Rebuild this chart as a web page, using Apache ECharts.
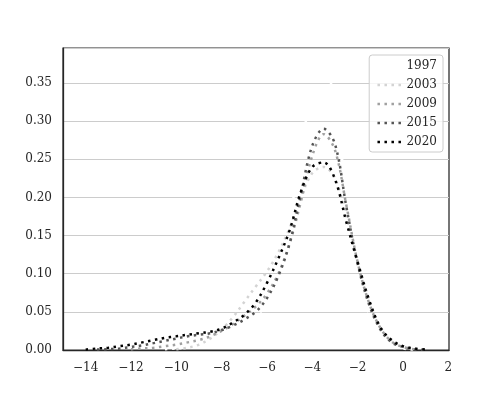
<!DOCTYPE html>
<html>
<head>
<meta charset="utf-8">
<script src="https://cdn.jsdelivr.net/npm/echarts@6/dist/echarts.min.js"></script>
<style>html,body{margin:0;padding:0;background:#fff;}#c{width:500px;height:400px;}</style>
</head>
<body>
<div id="c"></div>
<script>
var xs = [-14.5,-14,-13.5,-13,-12.5,-12,-11.5,-11,-10.5,-10,-9.5,-9,-8.5,-8,-7.5,-7,-6.5,-6,-5.5,-5,-4.5,-4,-3.5,-3,-2.5,-2,-1.5,-1,-0.5,0,0.5,1,1.5];
var seriesNames = ['1997','2003','2009','2015','2020'];
var v1997 = [null,null,null,null,null,null,null,null,0.001,0.002,0.003,0.005,0.009,0.015,0.022,0.031,0.043,0.062,0.10,0.17,0.262,0.340,0.376,0.320,0.205,0.105,0.047,0.019,0.007,0.002,0.0005,null,null];
var v2003 = [null,null,null,null,null,null,null,null,null,0.001,0.003,0.007,0.015,0.027,0.043,0.063,0.083,0.103,0.128,0.160,0.200,0.232,0.240,0.225,0.175,0.118,0.066,0.030,0.012,0.004,0.001,null,null];
var v2009 = [null,null,null,null,null,0.001,0.002,0.003,0.005,0.007,0.010,0.013,0.018,0.025,0.034,0.045,0.057,0.074,0.100,0.140,0.195,0.255,0.283,0.262,0.190,0.115,0.062,0.029,0.011,0.004,0.001,null,null];
var v2015 = [null,null,0.0005,0.001,0.002,0.004,0.006,0.009,0.012,0.015,0.018,0.020,0.022,0.026,0.032,0.040,0.050,0.068,0.097,0.140,0.205,0.268,0.290,0.270,0.188,0.113,0.060,0.027,0.010,0.004,0.001,0.0003,null];
var v2020 = [null,0.0005,0.002,0.003,0.005,0.007,0.010,0.013,0.016,0.018,0.020,0.022,0.024,0.028,0.036,0.046,0.062,0.088,0.120,0.157,0.208,0.240,0.246,0.224,0.168,0.115,0.066,0.030,0.013,0.005,0.002,0.0005,null];
var yTicks = [0,0.05,0.10,0.15,0.20,0.25,0.30,0.35];
var xTicks = [-14,-12,-10,-8,-6,-4,-2,0,2];

var values = [v1997, v2003, v2009, v2015, v2020];
var colors = ['#ffffff','#d3d3d3','#a0a0a0','#555555','#000000'];

function pairs(arr){
  var out = [];
  for (var i = 0; i < xs.length; i++) if (arr[i] !== null) out.push([xs[i], arr[i]]);
  return out;
}
var FONT = 'DejaVu Serif';
var chart = echarts.init(document.getElementById('c'), null, {renderer:'canvas'});
chart.setOption({
  animation: false,
  backgroundColor: '#ffffff',
  grid: {left: 63, right: 51, top: 48, bottom: 50, show: true, borderColor: '#262626', borderWidth: 1.25, backgroundColor: 'transparent'},
  legend: {
    orient: 'vertical', right: 57, top: 55,
    data: seriesNames,
    itemWidth: 24, itemHeight: 14, itemGap: 7,
    padding: [5, 6, 4, 7],
    backgroundColor: 'rgba(255,255,255,0.8)',
    borderColor: '#cccccc', borderWidth: 1, borderRadius: 3,
    itemStyle: {opacity: 0},
    lineStyle: {width: 2.5, type: [2.5, 4.5], cap: 'butt'},
    textStyle: {fontFamily: FONT, fontSize: 12, color: '#262626'}
  },
  xAxis: {
    type: 'value', min: -15, max: 2.03, interval: 1,
    axisLine: {show: true, onZero: false, lineStyle: {color: '#262626', width: 1.25}},
    axisTick: {show: false},
    splitLine: {show: false},
    axisLabel: {
      margin: 12, fontFamily: FONT, fontSize: 12, color: '#262626',
      formatter: function(v){
        for (var i = 0; i < xTicks.length; i++) if (Math.abs(v - xTicks[i]) < 1e-6) return (xTicks[i] < 0 ? '\u2212' + (-xTicks[i]) : String(xTicks[i]));
        return '';
      }
    }
  },
  yAxis: {
    type: 'value', min: 0, max: 0.396, interval: 0.05,
    axisLine: {show: true, onZero: false, lineStyle: {color: '#262626', width: 1.25}},
    axisTick: {show: false},
    splitLine: {show: true, lineStyle: {color: '#cccccc', width: 1}},
    axisLabel: {
      margin: 11, fontFamily: FONT, fontSize: 12, color: '#262626',
      formatter: function(v){
        for (var i = 0; i < yTicks.length; i++) if (Math.abs(v - yTicks[i]) < 1e-6) return yTicks[i].toFixed(2);
        return '';
      }
    }
  },
  series: seriesNames.map(function(n, i){
    return {
      name: n, type: 'line', data: pairs(values[i]),
      showSymbol: false, symbol: 'none', smooth: 0.35,
      lineStyle: {color: colors[i], width: 2.5, type: [2.5, 4.5], cap: 'butt'},
      itemStyle: {color: colors[i]},
      z: 2 + i
    };
  })
});
</script>
</body>
</html>
